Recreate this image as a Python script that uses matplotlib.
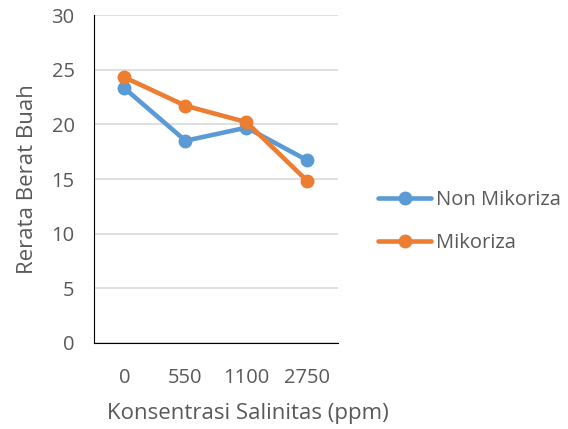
import matplotlib.pyplot as plt

# data
categories = ["0", "550", "1100", "2750"]
non_mikoriza = [23.3, 18.5, 19.7, 16.7]
mikoriza = [24.3, 21.7, 20.2, 14.8]

plt.rcParams["font.family"] = ["Open Sans", "DejaVu Sans"]
text_color = "#595959"

fig = plt.figure(figsize=(5.68, 4.29), dpi=100)
ax = fig.add_axes([0.1655, 0.2005, 0.4295, 0.7645])

x = range(len(categories))
ax.plot(x, non_mikoriza, color="#5b9bd5", lw=3.3, marker="o", ms=9,
        label="Non Mikoriza", solid_capstyle="round")
ax.plot(x, mikoriza, color="#ed7d31", lw=3.3, marker="o", ms=9,
        label="Mikoriza", solid_capstyle="round")

ax.set_xlim(-0.5, 3.5)
ax.set_ylim(0, 30)
ax.set_yticks(range(0, 31, 5))
ax.set_xticks(list(x))
ax.set_xticklabels(categories)
ax.yaxis.grid(True, color="#d9d9d9", lw=1.2)
ax.set_axisbelow(True)

for side in ["top", "right"]:
    ax.spines[side].set_visible(False)
ax.spines["left"].set_color("#000000")
ax.spines["bottom"].set_color("#000000")
ax.tick_params(length=0, labelsize=14.5, colors=text_color)
ax.tick_params(axis="x", pad=18)
ax.tick_params(axis="y", pad=14)

ax.set_xlabel("Konsentrasi Salinitas (ppm)", fontsize=16, color=text_color, labelpad=11)
ax.xaxis.label.set_x(0.631)  # Excel centres the title under the whole chart
ax.set_ylabel("Rerata Berat Buah", fontsize=16, color=text_color, labelpad=10)

ax.legend(loc="center left", bbox_to_anchor=(0.6655, 0.4837), bbox_transform=fig.transFigure,
          frameon=False, borderpad=0, borderaxespad=0,
          fontsize=14.5, labelcolor=text_color, handlelength=2.65, handletextpad=0.25,
          labelspacing=1.1)

fig.savefig("out.png", dpi=100)
